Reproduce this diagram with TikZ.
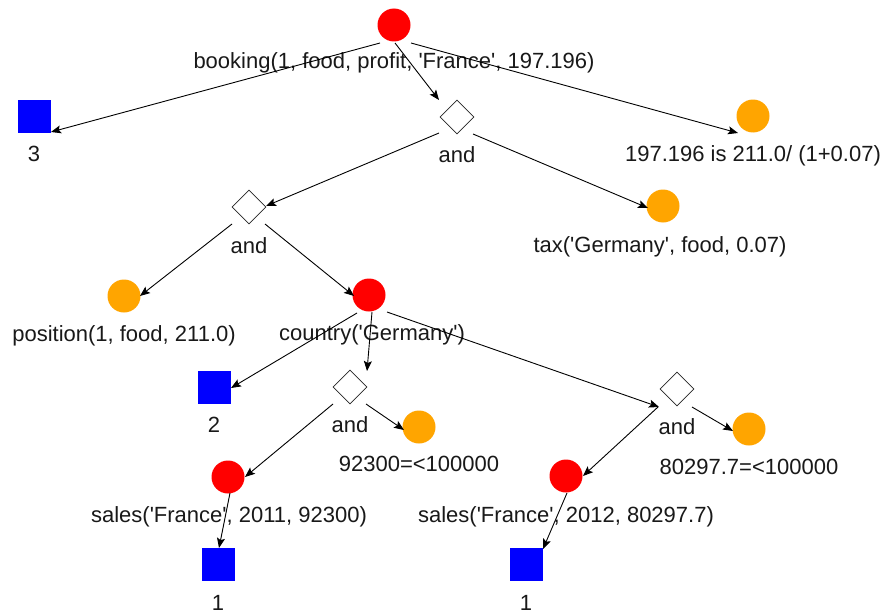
\documentclass[tikz,border=0pt]{standalone}
\usepackage{fontspec}
\setmainfont{Liberation Sans}
\usetikzlibrary{shapes.geometric,arrows.meta}
\definecolor{goalred}{RGB}{255,0,0}
\definecolor{factorange}{RGB}{255,165,0}
\definecolor{leafblue}{RGB}{0,0,255}
\newcommand\sq{\textquotesingle}
\tikzset{
  base/.style={minimum size=33pt, inner sep=0pt, outer sep=0pt},
  goal/.style={base, circle, fill=goalred},
  fact/.style={base, circle, fill=factorange},
  leaf/.style={base, rectangle, fill=leafblue},
  conj/.style={diamond, draw=black!85, line width=0.8pt, fill=white, inner sep=0pt,
               minimum width=34pt, minimum height=34pt},
  lbl/.style={font=\fontsize{22}{26}\selectfont, inner sep=0pt, anchor=base, text=black!90},
  edge/.style={draw=black, line width=0.9pt, -{Stealth[length=10pt,width=8pt,inset=2pt]}}
}
\begin{document}
\begin{tikzpicture}[x=1pt,y=-1pt]
\path[use as bounding box, fill=white] (0,0) rectangle (886,610);
% nodes
\node[goal] (root) at (394,25) {};
\node[leaf] (s3)   at (34,116) {};
\node[conj] (d1)   at (457,117) {};
\node[fact] (fTop) at (753,116) {};
\node[conj] (d2)   at (249,207) {};
\node[fact] (fTax) at (663,206) {};
\node[fact] (fPos) at (124,296) {};
\node[goal] (gC)   at (369,295) {};
\node[leaf] (s2)   at (214,387) {};
\node[conj] (d3)   at (350,387) {};
\node[fact] (f92)  at (419,427) {};
\node[conj] (d4)   at (677,389) {};
\node[fact] (f80)  at (749,429) {};
\node[goal] (g11)  at (228,477) {};
\node[goal] (g12)  at (566,476) {};
\node[leaf] (s1a)  at (218,564) {};
\node[leaf] (s1b)  at (526,564) {};
% labels
\node[lbl] (lroot) at ([yshift=-44pt]root.center) {booking(1, food, profit, \sq France\sq, 197.196)};
\node[lbl] (ls3)   at ([yshift=-45pt]s3.center) {3};
\node[lbl] (ld1)   at ([yshift=-45pt]d1.center) {and};
\node[lbl] (lfTop) at ([yshift=-45pt]fTop.center) {197.196 is 211.0/ (1+0.07)};
\node[lbl] (ld2)   at ([yshift=-46pt]d2.center) {and};
\node[lbl] (lfTax) at ([xshift=-3pt,yshift=-46pt]fTax.center) {tax(\sq Germany\sq, food, 0.07)};
\node[lbl] (lfPos) at ([yshift=-45pt]fPos.center) {position(1, food, 211.0)};
\node[lbl] (lgC)   at ([xshift=3pt,yshift=-45pt]gC.center) {country(\sq Germany\sq)};
\node[lbl] (ls2)   at ([yshift=-45pt]s2.center) {2};
\node[lbl] (ld3)   at ([yshift=-45pt]d3.center) {and};
\node[lbl] (lf92)  at ([yshift=-44pt]f92.center) {92300=<100000};
\node[lbl] (ld4)   at ([yshift=-45pt]d4.center) {and};
\node[lbl] (lf80)  at ([yshift=-45pt]f80.center) {80297.7=<100000};
\node[lbl] (lg11)  at ([xshift=1pt,yshift=-45pt]g11.center) {sales(\sq France\sq, 2011, 92300)};
\node[lbl] (lg12)  at ([yshift=-46pt]g12.center) {sales(\sq France\sq, 2012, 80297.7)};
\node[lbl] (ls1a)  at ([yshift=-46pt]s1a.center) {1};
\node[lbl] (ls1b)  at ([yshift=-46pt]s1b.center) {1};
% edges
\draw[edge] ([shift={(-14,18)}]root.center) -- ([shift={(17,16)}]s3.center);
\draw[edge] ([shift={(1,18)}]root.center)   -- ([shift={(-18,-17)}]d1.center);
\draw[edge] ([shift={(17,18)}]root.center)  -- ([shift={(-15,17)}]fTop.center);
\draw[edge] ([shift={(-18,16)}]d1.center)   -- ([shift={(17,-1)}]d2.center);
\draw[edge] ([shift={(16,17)}]d1.center)    -- ([shift={(-15,2)}]fTax.center);
\draw[edge] ([shift={(-17,17)}]d2.center)   -- ([shift={(16,0)}]fPos.center);
\draw[edge] ([shift={(16,17)}]d2.center)    -- ([shift={(-15,1)}]gC.center);
\draw[edge] ([shift={(-12,18)}]gC.center)   -- ([shift={(17,1)}]s2.center);
\draw[edge] ([shift={(3,17)}]gC.center)     -- ([shift={(17,-16)}]d3.center);
\draw[edge] ([shift={(18,17)}]gC.center)    -- ([shift={(-18,18)}]d4.center);
\draw[edge] ([shift={(-17,17)}]d3.center)   -- ([shift={(17,0)}]g11.center);
\draw[edge] ([shift={(16,17)}]d3.center)    -- ([shift={(-15,3)}]f92.center);
\draw[edge] ([shift={(-19,18)}]d4.center)   -- ([shift={(17,0)}]g12.center);
\draw[edge] ([shift={(15,18)}]d4.center)    -- ([shift={(-16,2)}]f80.center);
\draw[edge] ([shift={(2,16)}]g11.center)    -- ([shift={(1,-16)}]s1a.center);
\draw[edge] ([shift={(1,17)}]g12.center)    -- ([shift={(17,-15)}]s1b.center);
\end{tikzpicture}
\end{document}
